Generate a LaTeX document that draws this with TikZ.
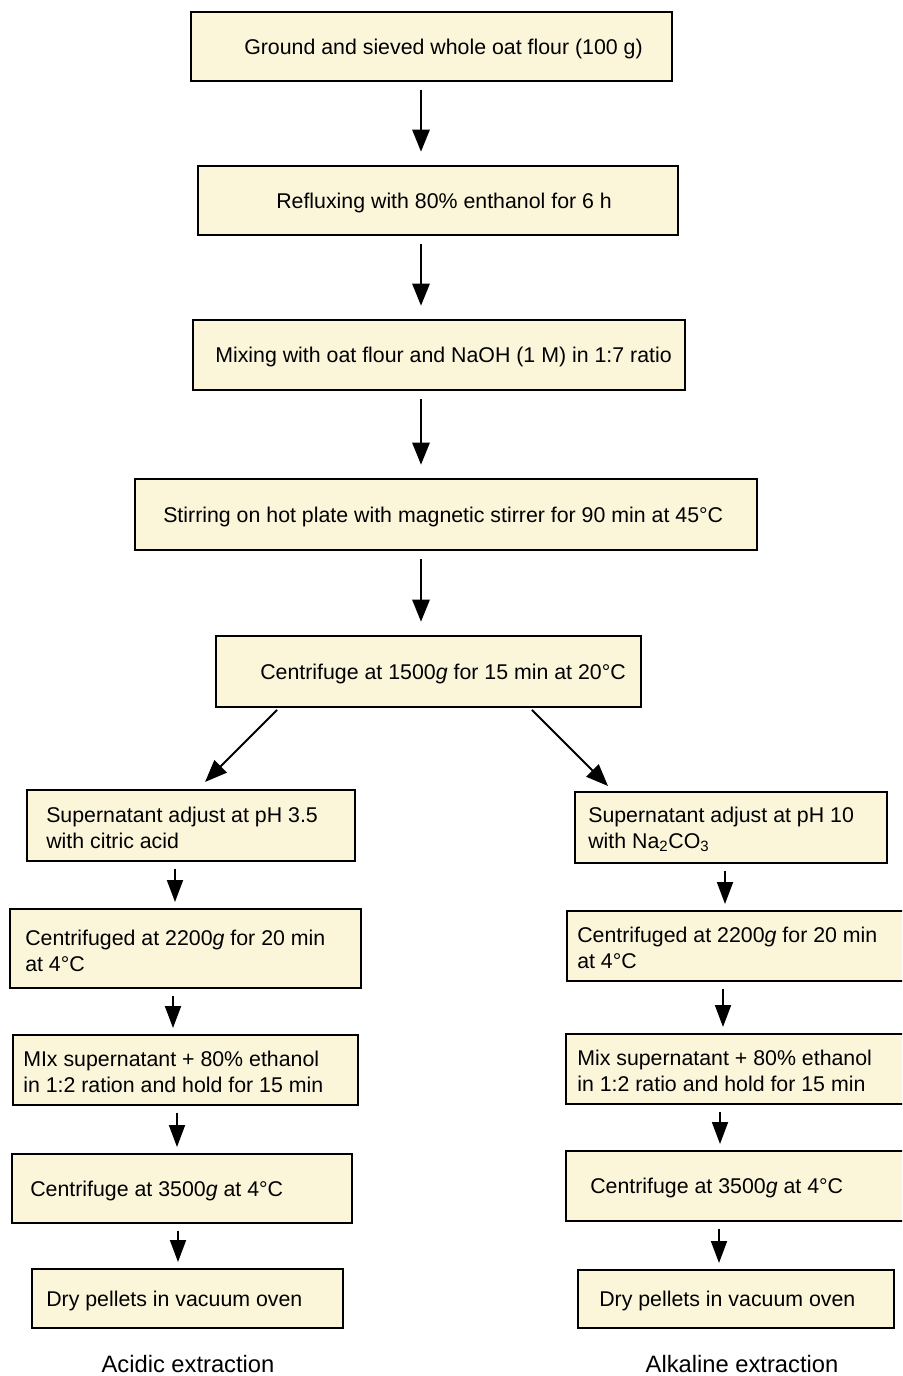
\documentclass[tikz,border=0pt]{standalone}
\usepackage{fontspec}
\setmainfont{Liberation Sans}
\usetikzlibrary{arrows.meta}

\tikzset{
    stepbox/.style 2 args={draw, fill=boxfill, line width=1.5pt, inner sep=0pt,
        minimum width=#1*0.75pt, minimum height=#2*0.75pt},
    steptxt/.style={font=\fontsize{16}{19.5}\selectfont, align=left, inner sep=0pt, anchor=west, yshift=-1.5pt},
    branchlabel/.style={font=\fontsize{17.8}{21}\selectfont, inner sep=0pt},
    flow/.style={line width=1.4pt, -{Triangle[length=16.5pt,width=13pt]}, shorten <=6pt, shorten >=10pt},
    subflow/.style={line width=1.4pt, -{Triangle[length=16.5pt,width=12pt]}, shorten <=5pt, shorten >=4.5pt}
}

\begin{document}
\begin{tikzpicture}[x=0.75pt,y=-0.75pt]
        % Define colors
        \definecolor{boxfill}{RGB}{251,245,218}
        \clip (0,0) rectangle (902,1376);

        % Main column
        \node[stepbox={481}{69}] (ground) at (431.5,46.5) {};
        \node[steptxt] (groundtxt) at ([xshift=40.5pt]ground.west) {Ground and sieved whole oat flour (100 g)};
        \node[stepbox={480}{69}] (reflux) at (438,200.5) {};
        \node[steptxt] (refluxtxt) at ([xshift=59.25pt]reflux.west) {Refluxing with 80\% enthanol for 6 h};
        \node[stepbox={492}{70}] (mixing) at (439,355) {};
        \node[steptxt] (mixingtxt) at ([xshift=17.25pt]mixing.west) {Mixing with oat flour and NaOH (1 M) in 1:7 ratio};
        \node[stepbox={622}{71}] (stirring) at (446,514.5) {};
        \node[steptxt] (stirringtxt) at ([xshift=21.75pt]stirring.west) {Stirring on hot plate with magnetic stirrer for 90 min at 45°C};
        \node[stepbox={425}{71}] (centri) at (428.5,671.5) {};
        \node[steptxt] (centritxt) at ([xshift=33.75pt]centri.west) {Centrifuge at 1500\textit{g} for 15 min at 20°C};

        % Acidic branch
        \node[stepbox={328}{71}] (acid1) at (191,825.5) {};
        \node[steptxt] (acid1txt) at ([xshift=15pt]acid1.west) {Supernatant adjust at pH 3.5\\with citric acid};
        \node[stepbox={351}{79}] (acid2) at (185.5,948.5) {};
        \node[steptxt] (acid2txt) at ([xshift=12pt]acid2.west) {Centrifuged at 2200\textit{g} for 20 min\\at 4°C};
        \node[stepbox={345}{70}] (acid3) at (185.5,1070) {};
        \node[steptxt] (acid3txt) at ([xshift=8.25pt]acid3.west) {MIx supernatant + 80\% ethanol\\in 1:2 ration and hold for 15 min};
        \node[stepbox={340}{69}] (acid4) at (182,1188.5) {};
        \node[steptxt] (acid4txt) at ([xshift=14.25pt]acid4.west) {Centrifuge at 3500\textit{g} at 4°C};
        \node[stepbox={311}{59}] (acid5) at (187.5,1298.5) {};
        \node[steptxt] (acid5txt) at ([xshift=11.25pt]acid5.west) {Dry pellets in vacuum oven};
        \node[branchlabel] (acidlbl) at (188,1364) {Acidic extraction};

        % Alkaline branch
        \node[stepbox={312}{71}] (alk1) at (731,827.5) {};
        \node[steptxt] (alk1txt) at ([xshift=10.5pt]alk1.west) {Supernatant adjust at pH 10\\with Na\textsubscript{2}CO\textsubscript{3}};
        \node[stepbox={343}{70}] (alk2) at (738.5,946) {};
        \node[steptxt] (alk2txt) at ([xshift=8.25pt]alk2.west) {Centrifuged at 2200\textit{g} for 20 min\\at 4°C};
        \node[stepbox={344}{70}] (alk3) at (738,1069) {};
        \node[steptxt] (alk3txt) at ([xshift=9pt]alk3.west) {Mix supernatant + 80\% ethanol\\in 1:2 ratio and hold for 15 min};
        \node[stepbox={344}{70}] (alk4) at (738,1186) {};
        \node[steptxt] (alk4txt) at ([xshift=18.75pt]alk4.west) {Centrifuge at 3500\textit{g} at 4°C};
        \node[stepbox={316}{58}] (alk5) at (736,1299) {};
        \node[steptxt] (alk5txt) at ([xshift=16.5pt]alk5.west) {Dry pellets in vacuum oven};
        \node[branchlabel] (alklbl) at (742,1364) {Alkaline extraction};

        % Arrows of the main column
        \draw[flow] (ground.south -| 421,0) -- (reflux.north -| 421,0);
        \draw[flow] (reflux.south -| 421,0) -- (mixing.north -| 421,0);
        \draw[flow] (mixing.south -| 421,0) -- (stirring.north -| 421,0);
        \draw[flow] (stirring.south -| 421,0) -- (centri.north -| 421,0);

        % Split into the two branches
        \draw[flow, shorten <=2pt, shorten >=7.5pt] (centri.south -| 279,0) -- (acid1.north -| 198,0);
        \draw[flow, shorten <=2pt, shorten >=5.3pt] (centri.south -| 530,0) -- (alk1.north -| 613,0);

        % Arrows of the branches
        \draw[subflow] (acid1.south -| 175,0) -- (acid2.north -| 175,0);
        \draw[subflow] (acid2.south -| 173,0) -- (acid3.north -| 173,0);
        \draw[subflow] (acid3.south -| 177,0) -- (acid4.north -| 177,0);
        \draw[subflow] (acid4.south -| 178,0) -- (acid5.north -| 178,0);
        \draw[subflow] (alk1.south -| 725,0) -- (alk2.north -| 725,0);
        \draw[subflow] (alk2.south -| 723,0) -- (alk3.north -| 723,0);
        \draw[subflow] (alk3.south -| 720,0) -- (alk4.north -| 720,0);
        \draw[subflow] (alk4.south -| 719,0) -- (alk5.north -| 719,0);
    \end{tikzpicture}
\end{document}
